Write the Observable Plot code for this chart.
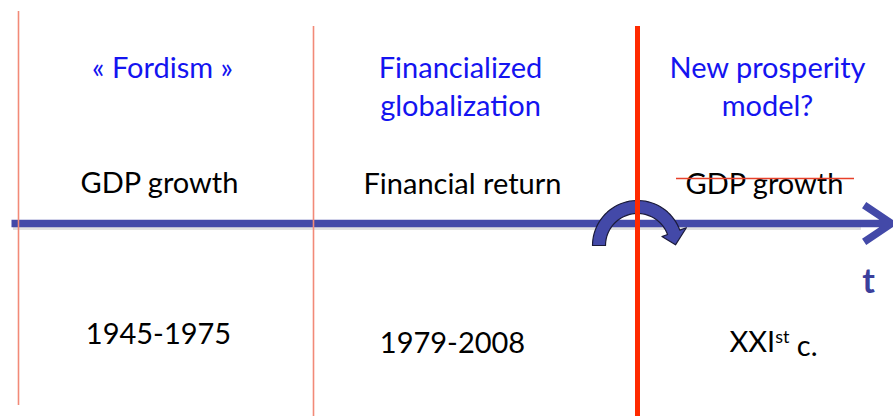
<!DOCTYPE html>
<html>
<head>
<meta charset="utf-8">
<script src="https://cdn.jsdelivr.net/npm/d3@7"></script>
<script src="https://cdn.jsdelivr.net/npm/@observablehq/plot@0.6"></script>
<style>
  html, body { margin: 0; padding: 0; background: #fff; }
  #chart svg { display: block; }
</style>
</head>
<body>
<div id="chart"></div>
<script>
// ---- data ----
const eras = ["« Fordism »", "Financialized\nglobalization", "New prosperity\nmodel?"];
const drivers = ["GDP growth", "Financial return", "GDP growth"];
const driverStruck = [false, false, true];
const periods = ["1945-1975", "1979-2008", "XXIst c."];
const axisLabel = "t";

// ---- layout (pixel space of the 893x416 slide) ----
const W = 893, H = 416;
const eraX = [162, 460, 767];
const titleTop = 51;
const driverX = [159, 462, 764];
const driverBase = [192, 193, 193];
const periodX = [158, 452, 773];
const periodBase = [343, 352, 351];
const dividers = [
  {x: 18, y1: 11, y2: 405, color: "#f28a78", w: 1.6},
  {x: 313, y1: 26, y2: 416, color: "#f28a78", w: 1.6},
  {x: 637, y1: 26, y2: 416, color: "#ff2a00", w: 5}
];
const timeAxis = {x1: 11, x2: 891, y: 223};
const strike = {x1: 676, x2: 854, y: 178};
const turn = {cx: 637, cy: 245, R: 45, r: 32, end: 20, headR: 52, headr: 26, tipR: 38, tip: 1};

// curved "turn" arrow outline (shape geometry)
function turnShape(t) {
  const pts = [];
  const P = (rad, deg) => ({x: t.cx + rad * Math.cos(deg * Math.PI / 180), y: t.cy - rad * Math.sin(deg * Math.PI / 180)});
  for (let a = 180; a >= t.end; a -= 4) pts.push(P(t.R, a));
  pts.push(P(t.R, t.end));
  pts.push(P(t.headR, t.end));
  pts.push(P(t.tipR, t.tip));
  pts.push(P(t.headr, t.end));
  pts.push(P(t.r, t.end));
  for (let a = t.end; a <= 180; a += 4) pts.push(P(t.r, a));
  pts.push(P(t.r, 180));
  pts.push(P(t.R, 180));
  return pts;
}

const idx = d3.range(eras.length);
const font = "Lato, 'Open Sans', sans-serif";
const fs = 29;

const chart = Plot.plot({
  width: W,
  height: H,
  margin: 0,
  x: {domain: [0, W], range: [0, W], axis: null},
  y: {domain: [0, H], range: [0, H], axis: null},
  style: {fontFamily: font, background: "#fff"},
  marks: [
    // shadow of the time axis
    Plot.ruleY([timeAxis], {x1: d => d.x1 + 2, x2: d => d.x2 - 30, y: d => d.y + 3, stroke: "#000", strokeOpacity: 0.12, strokeWidth: 7}),
    // time axis arrow
    Plot.arrow([timeAxis], {x1: "x1", y1: "y", x2: "x2", y2: "y", stroke: "#4349a8", strokeWidth: 7.5, headLength: 6.6, headAngle: 68, strokeLinecap: "butt"}),
    // turn arrow
    Plot.line(turnShape(turn), {x: "x", y: "y", fill: "#4349a8", stroke: "#1b1b3a", strokeWidth: 1.2, curve: "linear-closed"}),
    // era dividers
    Plot.ruleX(dividers, {x: "x", y1: "y1", y2: "y2", stroke: "color", strokeWidth: "w"}),
    // era titles
    Plot.text(idx, {x: i => eraX[i], y: () => titleTop, text: i => eras[i], lineAnchor: "top", lineHeight: 1.31, fontSize: fs, fill: "#1414f0"}),
    // drivers
    Plot.text(idx, {x: i => driverX[i], y: i => driverBase[i], text: i => drivers[i], lineAnchor: "bottom", fontSize: fs, fill: "#000"}),
    Plot.ruleY(idx.filter(i => driverStruck[i]), {x1: () => strike.x1, x2: () => strike.x2, y: () => strike.y, stroke: "#e8402a", strokeWidth: 1.5}),
    // periods
    Plot.text(idx, {x: i => periodX[i], y: i => periodBase[i], text: i => periods[i], lineAnchor: "bottom", fontSize: fs, fill: "#000"}),
    // axis label
    Plot.text([axisLabel], {x: () => 868, y: () => 292, text: d => d, lineAnchor: "bottom", fontSize: 34, fontWeight: "bold", fill: "#3b3f9c"})
  ]
});

// superscript "st" in XXIst
d3.select(chart).selectAll("text").each(function() {
  const el = d3.select(this);
  if (el.text() === "XXIst c.") {
    el.text(null);
    el.append("tspan").text("XXI");
    el.append("tspan").attr("dy", "-0.45em").attr("font-size", "0.62em").text("st");
    el.append("tspan").attr("dy", "0.45em").text("\u00a0c.");
  }
});

document.getElementById("chart").appendChild(chart);
</script>
</body>
</html>
